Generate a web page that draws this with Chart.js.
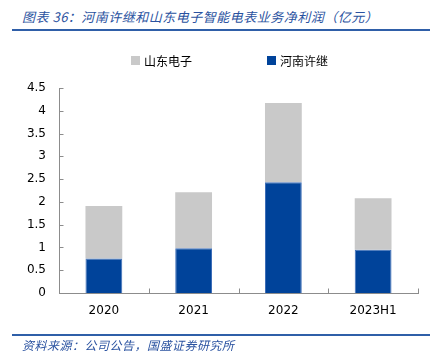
<!DOCTYPE html>
<html><head><meta charset="utf-8">
<script src="https://cdn.jsdelivr.net/npm/chart.js@4"></script>
<style>
html,body{margin:0;padding:0;background:#fff;}
#wrap{position:relative;width:430px;height:354px;overflow:hidden;}
#c{position:absolute;left:0;top:0;}
.title{position:absolute;left:22px;top:7px;font:italic 13px "Noto Sans CJK SC";color:#2a52a0;white-space:nowrap;letter-spacing:0.5px;}
.line1{position:absolute;left:12px;top:29px;width:418px;height:2px;background:#2f5fa8;}
.line2{position:absolute;left:12px;top:334px;width:418px;height:2px;background:#2f5fa8;}
.src{position:absolute;left:22px;top:336px;font:italic 12px "Noto Sans CJK SC";color:#2a52a0;white-space:nowrap;letter-spacing:0.5px;}
</style></head>
<body><div id="wrap">
<div class="title">图表 36：河南许继和山东电子智能电表业务净利润（亿元）</div>
<div class="line1"></div>
<canvas id="c" width="430" height="354"></canvas>
<div class="line2"></div>
<div class="src">资料来源：公司公告，国盛证券研究所</div>
</div>
<script>
const categories = ['2020', '2021', '2022', '2023H1'];
const henanXuji = [0.76, 0.98, 2.43, 0.95];
const shandongDianzi = [1.15, 1.23, 1.74, 1.13];
const yTicks = [0, 0.5, 1, 1.5, 2, 2.5, 3, 3.5, 4, 4.5];

const axisColor = '#8c8c8c';

const legendPlugin = {
  id: 'customLegend',
  afterDraw(chart) {
    const ctx = chart.ctx;
    const items = [
      {ds: chart.data.datasets[1], x: 131},
      {ds: chart.data.datasets[0], x: 267}
    ];
    ctx.save();
    ctx.font = '12px "Noto Sans CJK SC"';
    ctx.textBaseline = 'middle';
    items.forEach(it => {
      ctx.fillStyle = it.ds.backgroundColor;
      ctx.fillRect(it.x, 56, 9, 9);
      ctx.fillStyle = '#000';
      ctx.fillText(it.ds.label, it.x + 13, 61);
    });
    ctx.restore();
  }
};

const ticksPlugin = {
  id: 'inwardTicks',
  afterDraw(chart) {
    const ctx = chart.ctx;
    const y = chart.scales.y, x = chart.scales.x;
    ctx.save();
    ctx.strokeStyle = axisColor;
    ctx.lineWidth = 1;
    ctx.beginPath();
    const left = Math.round(chart.chartArea.left) + 0.5;
    y.ticks.forEach(t => {
      const py = Math.round(y.getPixelForValue(t.value)) + 0.5;
      ctx.moveTo(left, py); ctx.lineTo(left + 4, py);
    });
    const bottom = Math.round(chart.chartArea.bottom) + 0.5;
    for (let i = 0; i < categories.length; i++) {
      const px = Math.round((x.getPixelForValue(i) + (i < categories.length - 1 ? x.getPixelForValue(i + 1) : 2 * x.getPixelForValue(i) - x.getPixelForValue(i - 1))) / 2) + 0.5;
      ctx.moveTo(px, bottom); ctx.lineTo(px, bottom - 5);
    }
    ctx.stroke();
    ctx.restore();
  }
};

new Chart(document.getElementById('c'), {
  type: 'bar',
  data: {
    labels: categories,
    datasets: [
      {label: '河南许继', data: henanXuji, backgroundColor: '#00439a', borderColor: '#3f6fb8', borderWidth: 1, borderSkipped: 'bottom', categoryPercentage: 1, barPercentage: 0.41},
      {label: '山东电子', data: shandongDianzi, backgroundColor: '#c9c9c9', borderWidth: 0, categoryPercentage: 1, barPercentage: 0.41}
    ]
  },
  options: {
    responsive: false,
    animation: false,
    layout: {padding: {top: 88, right: 12, left: 0, bottom: 0}},
    plugins: {legend: {display: false}, title: {display: false}, tooltip: {enabled: false}},
    scales: {
      x: {
        stacked: true,
        grid: {display: false, drawTicks: false},
        border: {display: true, color: axisColor, width: 1},
        ticks: {color: '#000', font: {family: 'DejaVu Sans', size: 12}, padding: 11},
        afterFit(s) { s.height = 61; }
      },
      y: {
        stacked: true,
        min: 0, max: 4.5,
        grid: {display: false, drawTicks: false},
        border: {display: true, color: axisColor, width: 1},
        afterBuildTicks(s) { s.ticks = yTicks.map(v => ({value: v})); },
        ticks: {color: '#000', font: {family: 'DejaVu Sans', size: 12}, padding: 13,
          callback: v => String(v)},
        afterFit(s) { s.width = 59; }
      }
    }
  },
  plugins: [legendPlugin, ticksPlugin]
});
</script>
</body></html>
